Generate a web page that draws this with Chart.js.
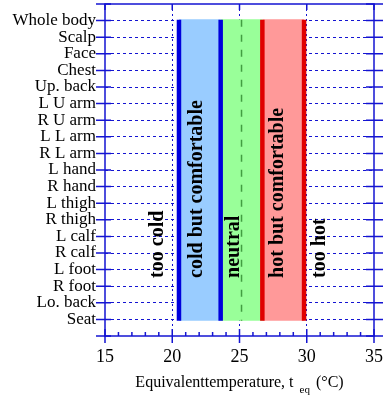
<!DOCTYPE html>
<html>
<head>
<meta charset="utf-8">
<script src="https://cdn.jsdelivr.net/npm/chart.js@4.4.0/dist/chart.umd.min.js"></script>
<style>
  html, body { margin: 0; padding: 0; background: #fff; }
</style>
</head>
<body>
<canvas id="myChart" width="386" height="396"></canvas>
<script>
// body parts, top to bottom
const bodyParts = ['Whole body', 'Scalp', 'Face', 'Chest', 'Up. back', 'L U arm', 'R U arm', 'L L arm', 'R L arm',
    'L hand', 'R hand', 'L thigh', 'R thigh', 'L calf', 'R calf', 'L foot', 'R foot', 'Lo. back', 'Seat'];

// zone limits (°C)
const coldLimits = [20.5, 23.6];     // cold but comfortable
const neutralLimits = [23.6, 26.7];  // neutral
const hotLimits = [26.7, 29.8];      // hot but comfortable
const neutralLine = 25.15;
const rowSpan = [-0.05, 18.08];      // rows covered by the zone lines

// zone names and the temperature where each name sits
const zoneNames = ['too cold', 'cold but comfortable', 'neutral', 'hot but comfortable', 'too hot'];
const zoneTextAt = [19.3, 22.2, 24.96, 28.24, 31.36];
const zoneTextRow = 15.5;

const AXIS_BLUE = '#1414d2';
const SERIF = '"Liberation Serif", "Times New Roman", serif';

function vLine(t) {
    return [{ x: t, y: rowSpan[0] }, { x: t, y: rowSpan[1] }];
}

function noPadding(scale) {
    scale.paddingLeft = 0;
    scale.paddingRight = 0;
    scale.paddingTop = 0;
    scale.paddingBottom = 0;
}

// frame round the plot with its ticks
const framePlugin = {
    id: 'frame',
    afterDraw(chart) {
        const { ctx, chartArea: a, scales: { x, y } } = chart;
        ctx.save();
        ctx.strokeStyle = AXIS_BLUE;
        ctx.lineWidth = 1.5;
        ctx.strokeRect(a.left, a.top, a.right - a.left, a.bottom - a.top);
        ctx.beginPath();
        for (let v = x.min; v <= x.max; v++) {
            const px = x.getPixelForValue(v);
            if (v % 5 === 0) {
                ctx.moveTo(px, a.bottom - 7); ctx.lineTo(px, a.bottom + 7);
                ctx.moveTo(px, a.top); ctx.lineTo(px, a.top + 6);
            } else {
                ctx.moveTo(px, a.bottom - 4); ctx.lineTo(px, a.bottom);
            }
        }
        for (let i = y.min; i <= y.max; i++) {
            const py = y.getPixelForValue(i);
            ctx.moveTo(a.left - 9, py); ctx.lineTo(a.left + 6, py);
            ctx.moveTo(a.right - 8, py); ctx.lineTo(a.right + 9, py);
        }
        ctx.stroke();
        ctx.restore();
    }
};

// rotated zone names
const zoneTextPlugin = {
    id: 'zoneText',
    afterDraw(chart) {
        const { ctx, scales: { x, y } } = chart;
        ctx.save();
        ctx.fillStyle = '#000';
        ctx.font = 'bold 20px ' + SERIF;
        ctx.textAlign = 'left';
        ctx.textBaseline = 'alphabetic';
        zoneNames.forEach((name, i) => {
            ctx.save();
            ctx.translate(x.getPixelForValue(zoneTextAt[i]), y.getPixelForValue(zoneTextRow));
            ctx.rotate(-Math.PI / 2);
            ctx.fillText(name, 0, 0);
            ctx.restore();
        });
        ctx.restore();
    }
};

// x axis title with subscript
const titlePlugin = {
    id: 'xTitle',
    afterDraw(chart) {
        const { ctx, chartArea: a } = chart;
        const main = 'Equivalenttemperature, t', sub = 'eq', tail = '(°C)';
        ctx.save();
        ctx.fillStyle = '#000';
        ctx.textBaseline = 'alphabetic';
        ctx.font = '16px ' + SERIF;
        const w1 = ctx.measureText(main).width;
        const w3 = ctx.measureText(tail).width;
        ctx.font = '11px ' + SERIF;
        const w2 = ctx.measureText(sub).width;
        const gap1 = 6, gap2 = 6;
        let x0 = (a.left + a.right) / 2 - (w1 + gap1 + w2 + gap2 + w3) / 2;
        const base = chart.height - 9;
        ctx.font = '16px ' + SERIF;
        ctx.fillText(main, x0, base);
        ctx.font = '11px ' + SERIF;
        ctx.fillText(sub, x0 + w1 + gap1, base + 6);
        ctx.font = '16px ' + SERIF;
        ctx.fillText(tail, x0 + w1 + gap1 + w2 + gap2, base);
        ctx.restore();
    }
};

function bandSet(limits, color) {
    return {
        type: 'bar', indexAxis: 'y', xAxisID: 'x', yAxisID: 'yb',
        data: [limits], backgroundColor: color, borderWidth: 0,
        barPercentage: 1, categoryPercentage: 0.908, grouped: false, order: 5,
    };
}

function lineSet(points, color, width, dash) {
    return {
        type: 'line', xAxisID: 'x', yAxisID: 'y',
        data: points, borderColor: color, borderWidth: width, borderDash: dash || [],
        pointRadius: 0, fill: false, order: 1,
    };
}

const ctx = document.getElementById('myChart').getContext('2d');
new Chart(ctx, {
    type: 'line',
    data: {
        datasets: [
            bandSet(coldLimits, '#99ccff'),
            bandSet(neutralLimits, '#99ff99'),
            bandSet(hotLimits, '#ff9999'),
            lineSet(vLine(neutralLine), 'rgba(50,140,50,0.85)', 1.5, [7, 8]),
            lineSet(vLine(coldLimits[0]), '#0000dc', 4.5),
            lineSet(vLine(coldLimits[1]), '#0000dc', 4.5),
            lineSet(vLine(hotLimits[0]), '#e00000', 4.5),
            lineSet(vLine(hotLimits[1]), '#e00000', 4.5),
        ],
    },
    options: {
        responsive: false,
        animation: false,
        devicePixelRatio: 1,
        layout: { padding: { top: 4, right: 12, left: 0, bottom: 0 } },
        plugins: { legend: { display: false }, tooltip: { enabled: false } },
        scales: {
            x: {
                type: 'linear', min: 15, max: 35, z: 1,
                ticks: { stepSize: 5, autoSkip: false, color: '#000', padding: 10, font: { family: SERIF, size: 18 } },
                grid: {
                    drawTicks: false, lineWidth: 1,
                    color: c => (c.tick && c.tick.value > 15 && c.tick.value < 35) ? AXIS_BLUE : 'rgba(0,0,0,0)',
                },
                border: { display: false, dash: [2, 3] },
                afterFit: scale => { scale.height = 60; noPadding(scale); },
            },
            y: {
                type: 'linear', reverse: true, min: -1, max: 19, z: 1,
                ticks: {
                    stepSize: 1, autoSkip: false, color: '#000', padding: 9,
                    font: { family: SERIF, size: 17 },
                    callback: v => bodyParts[v] || '',
                },
                grid: {
                    drawTicks: false, lineWidth: 1,
                    color: c => (c.tick && c.tick.value >= 0 && c.tick.value <= 18) ? AXIS_BLUE : 'rgba(0,0,0,0)',
                },
                border: { display: false, dash: [3, 3] },
                afterFit: scale => { scale.width = 105; noPadding(scale); },
            },
            yb: {
                type: 'category', labels: ['zones'], offset: true, display: false,
                afterFit: noPadding,
            },
        },
    },
    plugins: [framePlugin, zoneTextPlugin, titlePlugin],
});
</script>
</body>
</html>
